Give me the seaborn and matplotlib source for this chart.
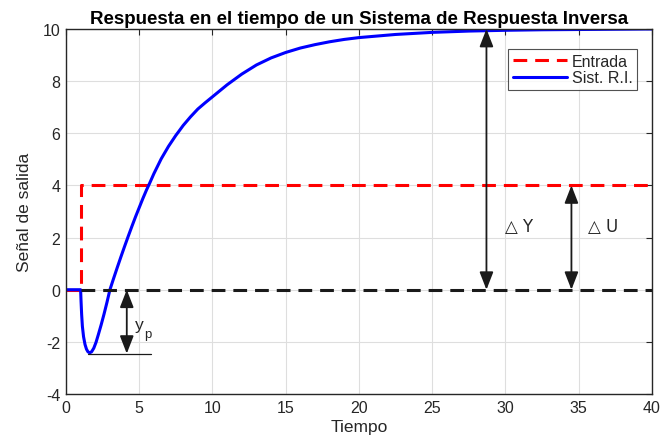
import matplotlib
matplotlib.use('Agg')
import numpy as np
import pandas as pd
import seaborn as sns
import matplotlib.pyplot as plt

# Datos
tiempo = [0.0, 1.0, 1.03, 1.07, 1.12, 1.2, 1.3, 1.4, 1.5, 1.62, 1.75, 1.9, 2.05,
          2.2, 2.4, 2.6, 2.8, 3.0, 3.25, 3.5, 3.75, 4.0, 4.25, 4.5, 4.75, 5.0,
          5.25, 5.5, 5.7, 6.0, 6.5, 7.0, 7.5, 7.7, 8.0, 8.5, 9.0, 9.5, 10.0,
          11.0, 12.0, 13.0, 14.0, 15.0, 16.0, 17.0, 18.0, 19.0, 20.0, 22.5,
          25.0, 27.5, 30.0, 32.5, 35.0, 40.0]
salida = [0.0, 0.0, -0.45, -0.95, -1.4, -1.8, -2.1, -2.28, -2.38, -2.42, -2.38, -2.24, -2.02,
          -1.74, -1.35, -0.93, -0.48, 0.0, 0.43, 0.85, 1.26, 1.66, 2.05, 2.43, 2.8, 3.15,
          3.5, 3.83, 4.07, 4.45, 5.02, 5.5, 5.92, 6.07, 6.3, 6.63, 6.93, 7.17, 7.4,
          7.86, 8.27, 8.62, 8.89, 9.1, 9.27, 9.4, 9.51, 9.6, 9.67, 9.79,
          9.87, 9.92, 9.95, 9.97, 9.98, 10.0]

t_entrada = [0.0, 1.0, 1.0, 40.0]
entrada = [0.0, 0.0, 4.0, 4.0]

t_ref = [1.0, 40.0]
ref = [0.0, 0.0]

y_final = 10.0
u_final = 4.0
y_pico = -2.45

x_ticks = [0, 5, 10, 15, 20, 25, 30, 35, 40]
y_ticks = [-4, -2, 0, 2, 4, 6, 8, 10]

sns.set_theme(style='white')
plt.rcParams['font.family'] = ['Liberation Sans', 'DejaVu Sans']
plt.rcParams['axes.unicode_minus'] = False

fig = plt.figure(figsize=(6.61, 4.39), dpi=100)
ax = fig.add_axes([0.0998, 0.1002, 0.8866, 0.8315])

df_entrada = pd.DataFrame({'t': t_entrada, 'u': entrada})
df_salida = pd.DataFrame({'t': tiempo, 'y': salida})

sns.lineplot(data=df_entrada, x='t', y='u', ax=ax, color='#ff0000', lw=2.2,
             sort=False, estimator=None, label='Entrada')
ax.lines[-1].set_dashes((4.5, 2.6))
sns.lineplot(data=df_salida, x='t', y='y', ax=ax, color='#0000ff', lw=2.2,
             sort=False, estimator=None, label='Sist. R.I.')
ax.plot(t_ref, ref, color='k', lw=2.2, dashes=(4.5, 2.6))

# flechas
arrow = dict(arrowstyle='<|-|>,head_length=0.9,head_width=0.35', color='k', lw=1.3,
             shrinkA=0, shrinkB=0)
ax.annotate('', xy=(28.7, 0), xytext=(28.7, y_final), arrowprops=arrow)
ax.annotate('', xy=(34.5, 0), xytext=(34.5, u_final), arrowprops=arrow)
ax.annotate('', xy=(4.15, y_pico), xytext=(4.15, 0), arrowprops=arrow)
ax.plot([1.5, 5.8], [y_pico, y_pico], color='k', lw=0.9)

ax.text(30.0, 2.45, '△ Y', fontsize=12, va='center', family=['DejaVu Sans'])
ax.text(35.6, 2.45, '△ U', fontsize=12, va='center', family=['DejaVu Sans'])
ax.text(4.7, -1.35, 'y', fontsize=12.5, va='center')
ax.text(5.35, -1.7, 'p', fontsize=9.5, va='center')

ax.set_xlim(0, 40)
ax.set_ylim(-4, 10)
ax.set_xticks(x_ticks)
ax.set_yticks(y_ticks)
ax.grid(True, color='#dedede', lw=0.8)
ax.set_axisbelow(True)
for s in ax.spines.values():
    s.set_color('#262626')
    s.set_linewidth(1.0)
ax.tick_params(direction='in', length=4, width=0.8, color='#262626',
               top=True, right=True, labelsize=11.5, labelcolor='#262626', pad=4)

ax.set_title('Respuesta en el tiempo de un Sistema de Respuesta Inversa',
             fontsize=13.5, fontweight='bold', pad=4, color='black')
ax.set_xlabel('Tiempo', fontsize=12.5, labelpad=3, color='#262626')
ax.set_ylabel('Señal de salida', fontsize=12.5, labelpad=8, color='#262626')

leg = ax.legend(loc='upper right', bbox_to_anchor=(0.975, 0.945), fontsize=11.5,
                frameon=True, fancybox=False, borderaxespad=0, handlelength=3.4,
                borderpad=0.3, labelspacing=0.1, handletextpad=0.3)
leg.get_frame().set_edgecolor('#262626')
leg.get_frame().set_linewidth(0.8)
leg.get_lines()[0].set_dashes((4.5, 2.6))

fig.savefig('out.png', dpi=100)
